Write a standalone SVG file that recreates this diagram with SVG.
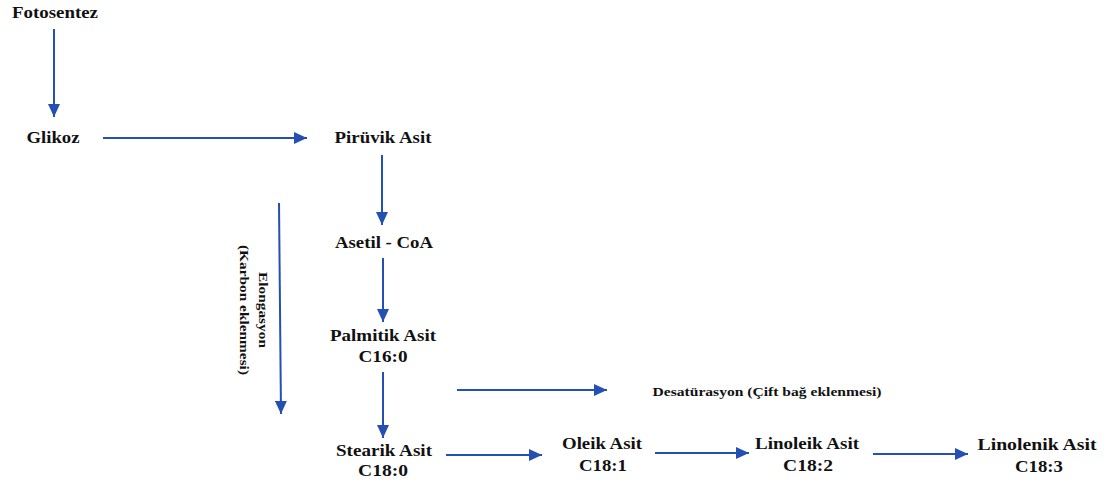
<svg xmlns="http://www.w3.org/2000/svg" width="1111" height="485" viewBox="0 0 1111 485">
<style>
.t{font-family:"Liberation Serif","Times New Roman",serif;font-weight:bold;font-size:16.5px;fill:#111;text-anchor:middle}
.s{font-size:13px}
.c{stroke:#2450B4;stroke-width:2;fill:none;marker-end:url(#ah)}
</style>
<defs>
<marker id="ah" markerUnits="userSpaceOnUse" markerWidth="14" markerHeight="12" refX="13" refY="6" orient="auto">
<path d="M0,0 L13,6 L0,12 z" fill="#2450B4"/>
</marker>
</defs>
<rect width="1111" height="485" fill="#fff"/>
<g id="connectors">
<line class="c" x1="54" y1="29" x2="54" y2="117"/>
<line class="c" x1="103" y1="138" x2="307" y2="138"/>
<line class="c" x1="382" y1="155" x2="382" y2="225"/>
<line class="c" x1="383" y1="258" x2="383" y2="322"/>
<line class="c" x1="383" y1="372" x2="383" y2="438"/>
<line class="c" x1="279" y1="203" x2="281" y2="414"/>
<line class="c" x1="457" y1="390" x2="607" y2="390"/>
<line class="c" x1="446" y1="455" x2="542" y2="455"/>
<line class="c" x1="655" y1="453" x2="749" y2="453"/>
<line class="c" x1="873" y1="454" x2="968" y2="454"/>
</g>
<g id="fotosentez"><text class="t" x="55" y="18" textLength="86" lengthAdjust="spacingAndGlyphs">Fotosentez</text></g>
<g id="glikoz"><text class="t" x="53" y="143" textLength="53" lengthAdjust="spacingAndGlyphs">Glikoz</text></g>
<g id="piruvik"><text class="t" x="383" y="143" textLength="97" lengthAdjust="spacingAndGlyphs">Pirüvik Asit</text></g>
<g id="asetil"><text class="t" x="384" y="248" textLength="98" lengthAdjust="spacingAndGlyphs">Asetil - CoA</text></g>
<g id="palmitik"><text class="t" x="383" y="341" textLength="106" lengthAdjust="spacingAndGlyphs">Palmitik Asit</text><text class="t" x="383" y="362" textLength="49" lengthAdjust="spacingAndGlyphs">C16:0</text></g>
<g id="stearik"><text class="t" x="384" y="456" textLength="96" lengthAdjust="spacingAndGlyphs">Stearik Asit</text><text class="t" x="383" y="476" textLength="50" lengthAdjust="spacingAndGlyphs">C18:0</text></g>
<g id="oleik"><text class="t" x="602" y="449" textLength="80" lengthAdjust="spacingAndGlyphs">Oleik Asit</text><text class="t" x="603" y="471" textLength="48" lengthAdjust="spacingAndGlyphs">C18:1</text></g>
<g id="linoleik"><text class="t" x="807" y="449" textLength="104" lengthAdjust="spacingAndGlyphs">Linoleik Asit</text><text class="t" x="808" y="471" textLength="50" lengthAdjust="spacingAndGlyphs">C18:2</text></g>
<g id="linolenik"><text class="t" x="1037" y="450" textLength="119" lengthAdjust="spacingAndGlyphs">Linolenik Asit</text><text class="t" x="1039" y="472" textLength="48" lengthAdjust="spacingAndGlyphs">C18:3</text></g>
<g id="desaturasyon"><text class="t s" x="767" y="396" textLength="229" lengthAdjust="spacingAndGlyphs">Desatürasyon (Çift bağ eklenmesi)</text></g>
<g id="elongasyon" transform="translate(256,310) rotate(90)">
<text class="t s" x="0" y="-3" textLength="76" lengthAdjust="spacingAndGlyphs">Elongasyon</text>
<text class="t s" x="0" y="16" textLength="130" lengthAdjust="spacingAndGlyphs">(Karbon eklenmesi)</text>
</g>
</svg>
